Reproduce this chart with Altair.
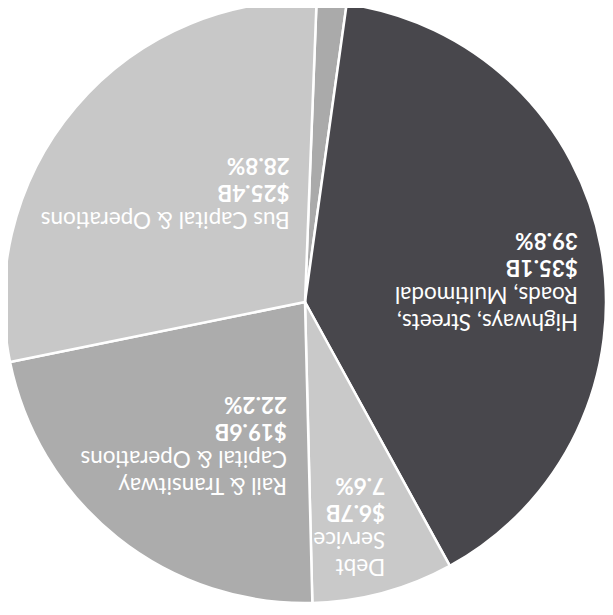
import math
import altair as alt
import pandas as pd

# ---- data ----
categories = ["Other", "Highways, Streets, Roads, Multimodal", "Debt Service",
              "Rail & Transitway Capital & Operations", "Bus Capital & Operations"]
percent = [1.6, 39.8, 7.6, 22.2, 28.8]
billions = ["", "$35.1B", "$6.7B", "$19.6B", "$25.4B"]
name_lines = ["", "Highways, Streets,\nRoads, Multimodal", "Debt\nService",
              "Rail & Transitway\nCapital & Operations", "\nBus Capital & Operations"]
colors = ["#aaaaaa", "#48474c", "#c9c9c9", "#acacac", "#c8c8c8"]

# ---- label layout (style, not data) ----
label_shift = [0.0, 1.6, -1.3, -8.7, 11.3]      # in percent units from slice middle
label_radius = [0, 274, 237, 143, 98]             # px from centre

start = math.radians(2.2)

cum = 0.0
mids = []
for p in percent:
    mids.append(cum + p / 2)
    cum += p

df = pd.DataFrame({
    "cat": categories,
    "pct": percent,
    "order": list(range(len(categories))),
    "name": name_lines,
    "val": [f"{b}\n{p}%" if b else "" for b, p in zip(billions, percent)],
    "lt": [m + s for m, s in zip(mids, label_shift)],
    "lr": label_radius,
})

cx, cy = 297, 294
FS = 22.5
LH = 27
GAP = 2
theta_scale = alt.Scale(domain=[0, 100], range=[start, start + 2 * math.pi])

base = alt.Chart(df)

arcs = base.mark_arc(outerRadius=301, stroke="white", strokeWidth=2.5).encode(
    theta=alt.Theta("pct:Q", scale=theta_scale, stack=True),
    order=alt.Order("order:Q"),
    color=alt.Color("cat:N", scale=alt.Scale(domain=categories, range=colors), legend=None),
    x=alt.value(cx), y=alt.value(cy),
)

labels_filter = alt.datum.lr > 0

names = base.transform_filter(labels_filter).mark_text(
    angle=180, align="left", baseline="bottom", font="Lato", fontSize=FS,
    lineHeight=LH, color="white", lineBreak="\n", dy=-LH - GAP,
).encode(
    theta=alt.Theta("lt:Q", scale=theta_scale, stack=None),
    radius=alt.Radius("lr:Q", scale=None),
    text="name:N",
    x=alt.value(cx), y=alt.value(cy),
)

vals = base.transform_filter(labels_filter).mark_text(
    angle=180, align="left", baseline="top", font="Lato", fontSize=FS,
    fontWeight="bold", lineHeight=LH, color="white", lineBreak="\n", dy=GAP,
).encode(
    theta=alt.Theta("lt:Q", scale=theta_scale, stack=None),
    radius=alt.Radius("lr:Q", scale=None),
    text="val:N",
    x=alt.value(cx), y=alt.value(cy),
)

chart = alt.layer(arcs, names, vals).properties(
    width=597, height=599, autosize=alt.AutoSizeParams(type="none"), padding=0,
).configure_view(stroke=None)

chart.save("out.html", embed_options={"renderer": "svg", "actions": False})
